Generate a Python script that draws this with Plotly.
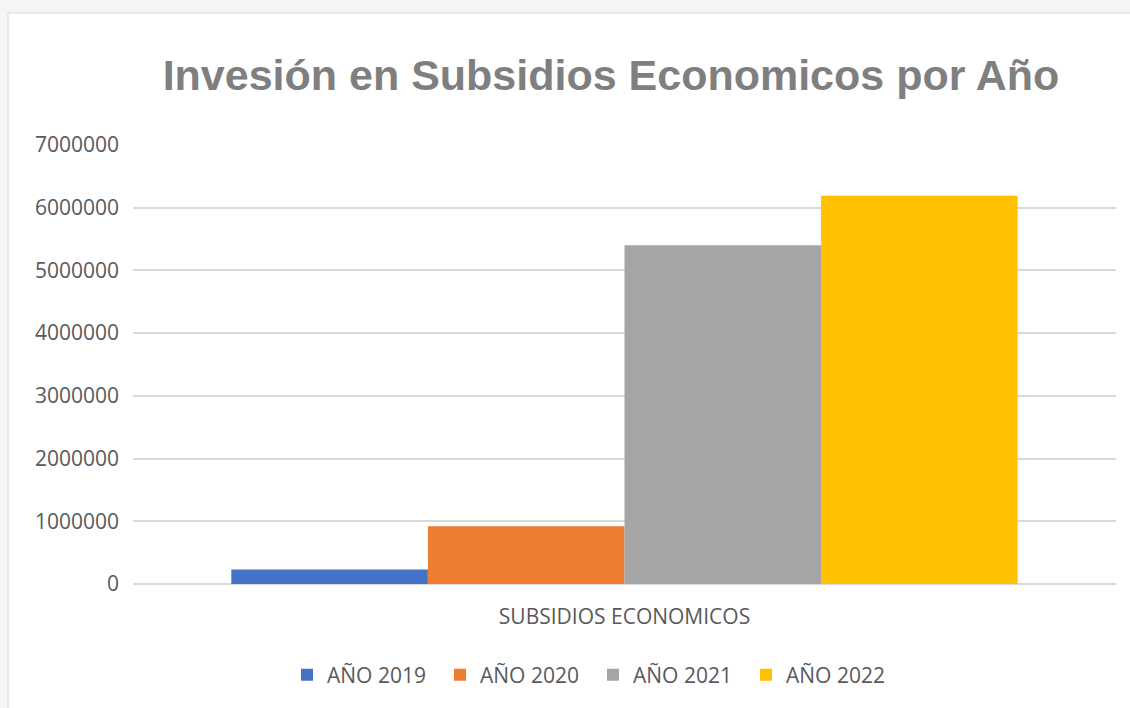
import plotly.graph_objects as go

categories = ["SUBSIDIOS ECONOMICOS"]
series_names = ["AÑO 2019", "AÑO 2020", "AÑO 2021", "AÑO 2022"]
values_2019 = [230000]
values_2020 = [920000]
values_2021 = [5400000]
values_2022 = [6190000]
series_values = [values_2019, values_2020, values_2021, values_2022]
colors = ["#4472c4", "#ed7d31", "#a5a5a5", "#ffc000"]
y_ticks = [0, 1000000, 2000000, 3000000, 4000000, 5000000, 6000000, 7000000]

W, H = 1130, 708
L, R, T, B = 133, 14, 145, 124
pw, ph = W - L - R, H - T - B

fig = go.Figure()
for name, vals, col in zip(series_names, series_values, colors):
    fig.add_trace(go.Bar(x=categories, y=vals, name=name, marker_color=col,
                         marker_line_width=0))

font_main = "Open Sans, Noto Sans, sans-serif"

fig.update_layout(
    width=W, height=H,
    margin=dict(l=L, r=R, t=T, b=B, pad=0),
    paper_bgcolor="#f5f5f5",
    plot_bgcolor="rgba(0,0,0,0)",
    barmode="group", bargap=0.2, bargroupgap=0,
    title=dict(text="<b>Invesión en Subsidios Economicos por Año</b>",
               font=dict(family="Liberation Sans, Arial, sans-serif",
                         size=43, color="#7f7f7f"),
               x=611 / W, xref="container", xanchor="center",
               y=1 - 75 / H, yref="container", yanchor="middle"),
    font=dict(family=font_main, color="#595959"),
    showlegend=True,
    legend=dict(orientation="h", x=(307 - 20 - L) / pw, xanchor="left",
                y=(H - 675 - B) / ph, yanchor="middle",
                font=dict(size=21, color="#595959", family=font_main),
                bgcolor="rgba(0,0,0,0)", entrywidth=153 - 45, entrywidthmode="pixels",
                traceorder="normal"),
    shapes=[dict(type="rect", xref="paper", yref="paper", layer="below",
                 x0=(8 - L) / pw, x1=(W + 5 - L) / pw,
                 y0=(H - 13 - B) / ph, y1=(-10 - B) / ph,
                 fillcolor="white", line=dict(color="#e3e3e3", width=1.5))],
)

fig.update_yaxes(range=[0, 7000000], tickvals=y_ticks,
                 ticktext=[str(v) for v in y_ticks],
                 showgrid=True, gridcolor="#d9d9d9", gridwidth=1.5,
                 zeroline=True, zerolinecolor="#d9d9d9", zerolinewidth=1.5,
                 showline=False, ticks="", ticklabelstandoff=13,
                 tickfont=dict(size=21, color="#595959", family=font_main))
fig.update_xaxes(showgrid=False, showline=False, ticks="",
                 ticklabelstandoff=18,
                 tickfont=dict(size=21, color="#595959", family=font_main))

fig.write_html("out.html",
               config={"displayModeBar": False},
               post_script="document.body.style.margin='0';"
                           "document.body.style.overflow='hidden';"
                           "document.body.style.background='#f5f5f5';")
